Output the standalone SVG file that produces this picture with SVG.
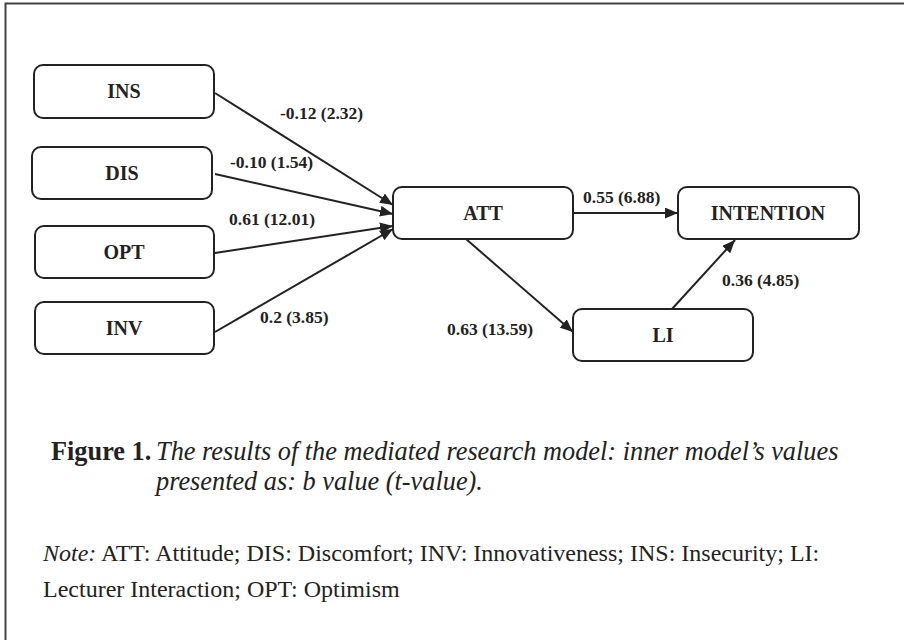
<svg xmlns="http://www.w3.org/2000/svg" width="904" height="640" viewBox="0 0 904 640">
<style>
.node rect{fill:#fff;stroke:#222;stroke-width:2}
.node text{font-family:"Liberation Serif","Times New Roman",serif;font-weight:bold;font-size:20px;fill:#222;text-anchor:middle}
.edge line{stroke:#222;stroke-width:2;marker-end:url(#ah)}
.lbl{font-family:"Liberation Serif","Times New Roman",serif;font-weight:bold;font-size:17.5px;fill:#222}
.cap{font-family:"Liberation Serif","Times New Roman",serif;font-size:26.3px;fill:#222}
.note{font-family:"Liberation Serif","Times New Roman",serif;font-size:24px;fill:#222}
</style>
<defs>
<marker id="ah" viewBox="0 0 12 10" refX="12" refY="5" markerWidth="13" markerHeight="11" markerUnits="userSpaceOnUse" orient="auto">
<path d="M0,0 L12,5 L0,10 Z" fill="#222"/>
</marker>
</defs>
<rect width="904" height="640" fill="#fff"/>
<path d="M5.5,640 V3.5 H904" fill="none" stroke="#444" stroke-width="2"/>
<g id="connectors" class="edge">
<line x1="215" y1="93" x2="393" y2="205"/>
<line x1="215" y1="174" x2="393" y2="214"/>
<line x1="215" y1="253" x2="393" y2="226"/>
<line x1="215" y1="332" x2="393" y2="229"/>
<line x1="573" y1="213" x2="678" y2="213"/>
<line x1="466" y1="239" x2="573" y2="332"/>
<line x1="672" y1="309" x2="735" y2="240"/>
</g>
<g id="labels" class="lbl">
<text x="280" y="119">-0.12 (2.32)</text>
<text x="230" y="168">-0.10 (1.54)</text>
<text x="229" y="225">0.61 (12.01)</text>
<text x="260" y="323">0.2 (3.85)</text>
<text x="583" y="203">0.55 (6.88)</text>
<text x="447" y="335">0.63 (13.59)</text>
<text x="722" y="286">0.36 (4.85)</text>
</g>
<g id="INS" class="node"><rect x="34" y="65" width="180" height="53" rx="9"/><text x="124" y="98">INS</text></g>
<g id="DIS" class="node"><rect x="32" y="147" width="180" height="52" rx="9"/><text x="122" y="180">DIS</text></g>
<g id="OPT" class="node"><rect x="35" y="226" width="179" height="52" rx="9"/><text x="124" y="259">OPT</text></g>
<g id="INV" class="node"><rect x="35" y="302" width="179" height="52" rx="9"/><text x="124" y="335">INV</text></g>
<g id="ATT" class="node"><rect x="393" y="187" width="180" height="52" rx="9"/><text x="483" y="220">ATT</text></g>
<g id="INTENTION" class="node"><rect x="678" y="187" width="181" height="52" rx="9"/><text x="768" y="220">INTENTION</text></g>
<g id="LI" class="node"><rect x="573" y="309" width="180" height="52" rx="9"/><text x="663" y="342">LI</text></g>
<g id="caption">
<text class="cap" x="51" y="460" font-weight="bold">Figure 1.</text>
<text class="cap" x="156" y="460" font-style="italic">The results of the mediated research model: inner model’s values</text>
<text class="cap" x="156" y="490" font-style="italic">presented as: b value (t-value).</text>
<text class="note" x="43" y="561"><tspan font-style="italic">Note:</tspan> ATT: Attitude; DIS: Discomfort; INV: Innovativeness; INS: Insecurity; LI:</text>
<text class="note" x="43" y="597">Lecturer Interaction; OPT: Optimism</text>
</g>
</svg>
